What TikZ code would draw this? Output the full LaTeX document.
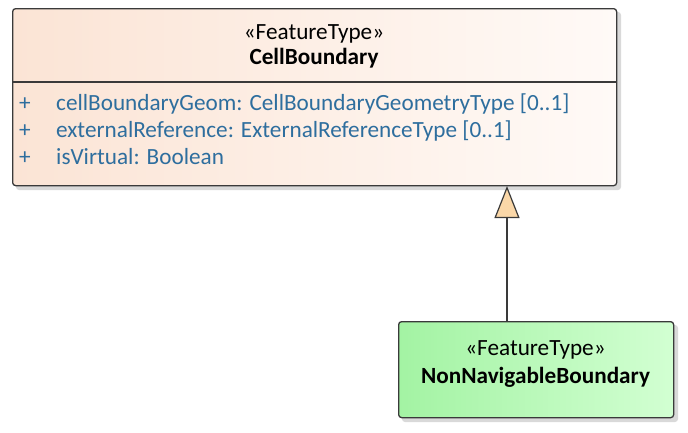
\documentclass[tikz,border=0pt]{standalone}
\usepackage{fontspec}
\setmainfont{Carlito}
\usetikzlibrary{arrows.meta}
\definecolor{cbL}{HTML}{FBE4D5}
\definecolor{cbR}{HTML}{FFFAF7}
\definecolor{nnL}{HTML}{A3F3A3}
\definecolor{nnR}{HTML}{D2FFD2}
\definecolor{edge}{HTML}{3A3A3A}
\definecolor{attr}{HTML}{2E6E9E}
\definecolor{tri}{HTML}{FAD7A8}
\tikzset{
  classbox/.style={draw=edge, line width=1.3pt, rounded corners=3pt, inner sep=0pt},
  shade1/.style={left color=cbL, right color=cbR},
  shade2/.style={left color=nnL, right color=nnR},
  shadowbox/.style={fill=black!25, rounded corners=3pt, opacity=0.6},
  txt/.style={anchor=base, inner sep=0pt, font=\fontsize{23.2}{27}\selectfont},
  attrtxt/.style={txt, anchor=base west, text=attr},
  plus/.style={txt, text=attr},
}
\begin{document}
\begin{tikzpicture}[x=1pt,y=-1pt]
\useasboundingbox (0,0) rectangle (688,432);
% shadows
\fill[shadowbox] (16,12) rectangle (621,190);
\fill[shadowbox] (402,325) rectangle (678,422);
% boxes
\node[classbox, shade1, minimum width=604pt, minimum height=177pt, anchor=north west] (cb) at (12,8) {};
\draw[edge, line width=1.3pt] (12,82) -- (616,82);
\node[classbox, shade2, minimum width=275pt, minimum height=96pt, anchor=north west] (nn) at (398,321) {};
% texts
\node[txt] (cbst) at (314,39) {«FeatureType»};
\node[txt, font=\fontsize{23.2}{27}\bfseries] (cbnm) at (314,64) {CellBoundary};
\node[plus] (p1) at (25,110) {+};
\node[plus] (p2) at (25,137) {+};
\node[plus] (p3) at (25,164) {+};
\node[attrtxt] (a1) at (56,110) {cellBoundaryGeom: CellBoundaryGeometryType [0..1]};
\node[attrtxt] (a2) at (56,137) {externalReference: ExternalReferenceType [0..1]};
\node[attrtxt] (a3) at (56,164) {isVirtual: Boolean};
\node[txt] (nnst) at (535.5,355) {«FeatureType»};
\node[txt, font=\fontsize{23.2}{27}\bfseries] (nnnm) at (535.5,383) {NonNavigableBoundary};
% generalization
\coordinate (top) at (507,186);
\coordinate (bot) at (507,321);
\draw[edge, line width=1.2pt, -{Triangle[open, fill=tri, length=32pt, width=25pt, line width=1.2pt]}] (bot) -- (top);
\end{tikzpicture}
\end{document}
